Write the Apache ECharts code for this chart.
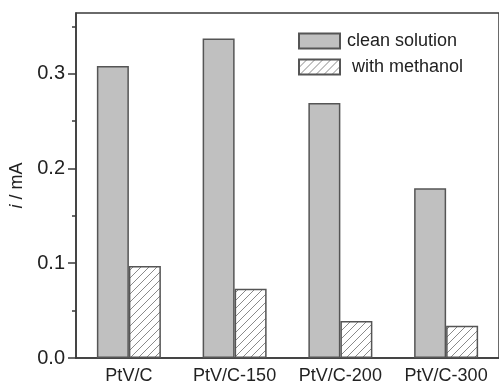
<!DOCTYPE html>
<html>
<head>
<meta charset="utf-8">
<script src="https://cdn.jsdelivr.net/npm/echarts@6/dist/echarts.min.js"></script>
<style>
  html, body { margin: 0; padding: 0; background: #fff; }
  #chart { width: 499px; height: 385px; }
</style>
</head>
<body>
<div id="chart"></div>
<script>
// Catalyst samples and peak currents (mA)
const categories = ['PtV/C', 'PtV/C-150', 'PtV/C-200', 'PtV/C-300'];
const cleanSolution = [0.308, 0.337, 0.269, 0.179];
const withMethanol = [0.097, 0.073, 0.039, 0.034];
const seriesNames = ['clean solution', ' with methanol'];
const yMajorTicks = [0, 0.1, 0.2, 0.3];
const yMinorTicks = [0.05, 0.15, 0.25, 0.35];
const yMax = 0.364;

// Diagonal hatch tile for the methanol bars
function hatchPattern() {
  const s = 8;
  const c = document.createElement('canvas');
  c.width = s; c.height = s;
  const g = c.getContext('2d');
  g.fillStyle = '#ffffff';
  g.fillRect(0, 0, s, s);
  g.strokeStyle = '#8a8a8a';
  g.lineWidth = 1;
  g.beginPath();
  g.moveTo(-1, s + 1); g.lineTo(s + 1, -1);
  g.moveTo(-1, 1); g.lineTo(1, -1);
  g.moveTo(s - 1, s + 1); g.lineTo(s + 1, s - 1);
  g.stroke();
  return { image: c, repeat: 'repeat' };
}

const axisColor = '#3a3a3a';
const textColor = '#222';
const font = 'Liberation Sans, Arial, sans-serif';

const chart = echarts.init(document.getElementById('chart'), null, { renderer: 'canvas' });
chart.setOption({
  animation: false,
  backgroundColor: '#fff',
  grid: {
    left: 76, top: 13, right: -3, bottom: 26.5,
    show: true, borderColor: axisColor, borderWidth: 1.5, containLabel: false
  },
  legend: {
    orient: 'vertical',
    left: 298, top: 32, padding: 0,
    icon: 'rect',
    itemWidth: 41, itemHeight: 15, itemGap: 8,
    textStyle: { fontFamily: font, fontSize: 18, color: textColor, padding: [0, 0, 0, 2] },
    data: seriesNames
  },
  xAxis: [
    {
      type: 'category', data: categories, position: 'bottom',
      axisLine: { lineStyle: { color: axisColor, width: 1.5 } },
      axisTick: { alignWithLabel: true, length: 7, lineStyle: { color: axisColor, width: 1.5 } },
      axisLabel: { interval: 0, fontFamily: font, fontSize: 18, color: textColor, margin: 9 }
    },
    {
      type: 'category', data: categories, position: 'bottom',
      axisLine: { show: false },
      axisTick: { length: 4, lineStyle: { color: axisColor, width: 1.5 } },
      axisLabel: { show: false }
    }
  ],
  yAxis: [
    {
      type: 'value', min: 0, max: yMax, position: 'left',
      name: '{it|i} / mA', nameLocation: 'middle', nameGap: 45, nameRotate: 90,
      nameTextStyle: {
        fontFamily: font, fontSize: 18, color: textColor,
        rich: { it: { fontFamily: font, fontSize: 18, fontStyle: 'italic', color: textColor } }
      },
      splitLine: { show: false },
      axisLine: { show: true, lineStyle: { color: axisColor, width: 1.5 } },
      axisTick: { show: true, length: 8, customValues: yMajorTicks, lineStyle: { color: axisColor, width: 1.5 } },
      axisLabel: {
        fontFamily: font, fontSize: 20, color: textColor, margin: 11,
        customValues: yMajorTicks,
        formatter: v => v.toFixed(1)
      }
    },
    {
      type: 'value', min: 0, max: yMax, position: 'left',
      splitLine: { show: false },
      axisLine: { show: false },
      axisTick: { show: true, length: 4, customValues: yMinorTicks, lineStyle: { color: axisColor, width: 1.5 } },
      axisLabel: { show: false }
    }
  ],
  series: [
    {
      name: seriesNames[0], type: 'bar', data: cleanSolution,
      barWidth: 32, barGap: '0%',
      itemStyle: { color: '#c0c0c0', borderColor: '#555', borderWidth: 1.5 }
    },
    {
      name: seriesNames[1], type: 'bar', data: withMethanol,
      barWidth: 32, barGap: '0%',
      itemStyle: { color: hatchPattern(), borderColor: '#555', borderWidth: 1.5 }
    }
  ]
});
</script>
</body>
</html>
